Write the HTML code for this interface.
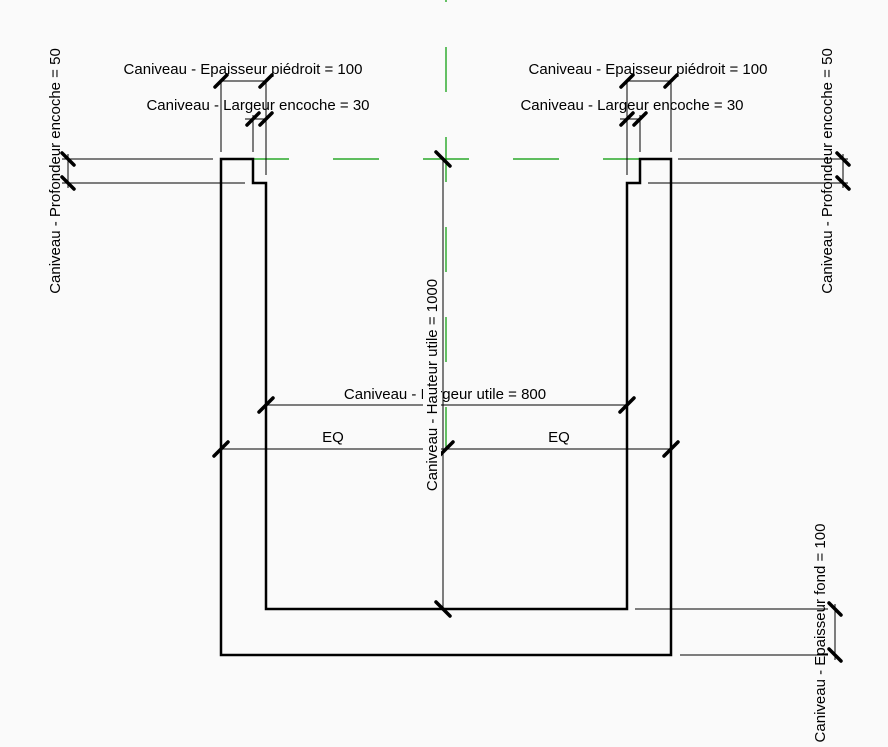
<!DOCTYPE html>
<html><head><style>body{margin:0;background:#fafafa}svg{display:block}text{font-family:"Liberation Sans",sans-serif;font-size:15px;fill:#000}</style></head>
<body>
<svg width="888" height="747" viewBox="0 0 888 747">
<rect width="888" height="747" fill="#fafafa"/>
<g stroke="#009900" stroke-width="1.2" fill="none">
<line x1="446" y1="0" x2="446" y2="450" stroke-dasharray="45,45" stroke-dashoffset="43"/>
<line x1="243" y1="159" x2="650" y2="159" stroke-dasharray="46,44"/>
</g>
<path d="M221 655 V159 H253 V183 H266 V609 H627 V183 H640 V159 H671 V655 Z" fill="none" stroke="#000" stroke-width="2.5"/>
<g stroke="#000" stroke-width="1" fill="none">
<line x1="221" y1="80" x2="221" y2="152"/><line x1="266" y1="80" x2="266" y2="175"/><line x1="253" y1="115" x2="253" y2="152"/>
<line x1="221" y1="81" x2="266" y2="81"/><line x1="245" y1="119" x2="266" y2="119"/>
<line x1="627" y1="80" x2="627" y2="175"/><line x1="671" y1="80" x2="671" y2="152"/><line x1="640" y1="115" x2="640" y2="152"/>
<line x1="627" y1="81" x2="671" y2="81"/><line x1="620" y1="119" x2="640" y2="119"/>
<line x1="62" y1="159" x2="213" y2="159"/><line x1="62" y1="183" x2="245" y2="183"/><line x1="68" y1="154" x2="68" y2="188"/>
<line x1="678" y1="159" x2="848" y2="159"/><line x1="648" y1="183" x2="848" y2="183"/><line x1="843" y1="154" x2="843" y2="188"/>
<line x1="443" y1="159" x2="443" y2="609"/>
<line x1="266" y1="405" x2="627" y2="405"/>
<line x1="221" y1="449" x2="671" y2="449"/>
<line x1="635" y1="609" x2="828" y2="609"/><line x1="680" y1="655" x2="828" y2="655"/><line x1="835" y1="604" x2="835" y2="660"/>
</g>
<g stroke="#000" stroke-width="3.5" stroke-linecap="round">
<line x1="215" y1="87" x2="227" y2="75"/><line x1="260" y1="87" x2="272" y2="75"/>
<line x1="247" y1="125" x2="259" y2="113"/><line x1="260" y1="125" x2="272" y2="113"/>
<line x1="621" y1="87" x2="633" y2="75"/><line x1="665" y1="87" x2="677" y2="75"/>
<line x1="621" y1="125" x2="633" y2="113"/><line x1="634" y1="125" x2="646" y2="113"/>
<line x1="259" y1="412" x2="273" y2="398"/><line x1="620" y1="412" x2="634" y2="398"/>
<line x1="214" y1="456" x2="228" y2="442"/><line x1="439" y1="456" x2="453" y2="442"/><line x1="664" y1="456" x2="678" y2="442"/>
<line x1="62" y1="153" x2="74" y2="165"/><line x1="62" y1="177" x2="74" y2="189"/>
<line x1="837" y1="153" x2="849" y2="165"/><line x1="837" y1="177" x2="849" y2="189"/>
<line x1="436" y1="152" x2="450" y2="166"/><line x1="436" y1="602" x2="450" y2="616"/>
<line x1="829" y1="603" x2="841" y2="615"/><line x1="829" y1="649" x2="841" y2="661"/>
</g>
<text x="243" y="74" text-anchor="middle">Caniveau - Epaisseur piédroit = 100</text>
<text x="258" y="110" text-anchor="middle">Caniveau - Largeur encoche = 30</text>
<text x="648" y="74" text-anchor="middle">Caniveau - Epaisseur piédroit = 100</text>
<text x="632" y="110" text-anchor="middle">Caniveau - Largeur encoche = 30</text>
<text x="445" y="399" text-anchor="middle">Caniveau - Largeur utile = 800</text>
<text x="333" y="442" text-anchor="middle">EQ</text>
<text x="559" y="442" text-anchor="middle">EQ</text>
<text transform="translate(60,171) rotate(-90)" text-anchor="middle">Caniveau - Profondeur encoche = 50</text>
<text transform="translate(832,171) rotate(-90)" text-anchor="middle">Caniveau - Profondeur encoche = 50</text>
<text transform="translate(825,633) rotate(-90)" text-anchor="middle">Caniveau - Epaisseur fond = 100</text>
<rect x="423" y="277" width="18" height="216" fill="#fafafa"/>
<text transform="translate(437,385) rotate(-90)" text-anchor="middle">Caniveau - Hauteur utile = 1000</text>
</svg>
</body></html>
